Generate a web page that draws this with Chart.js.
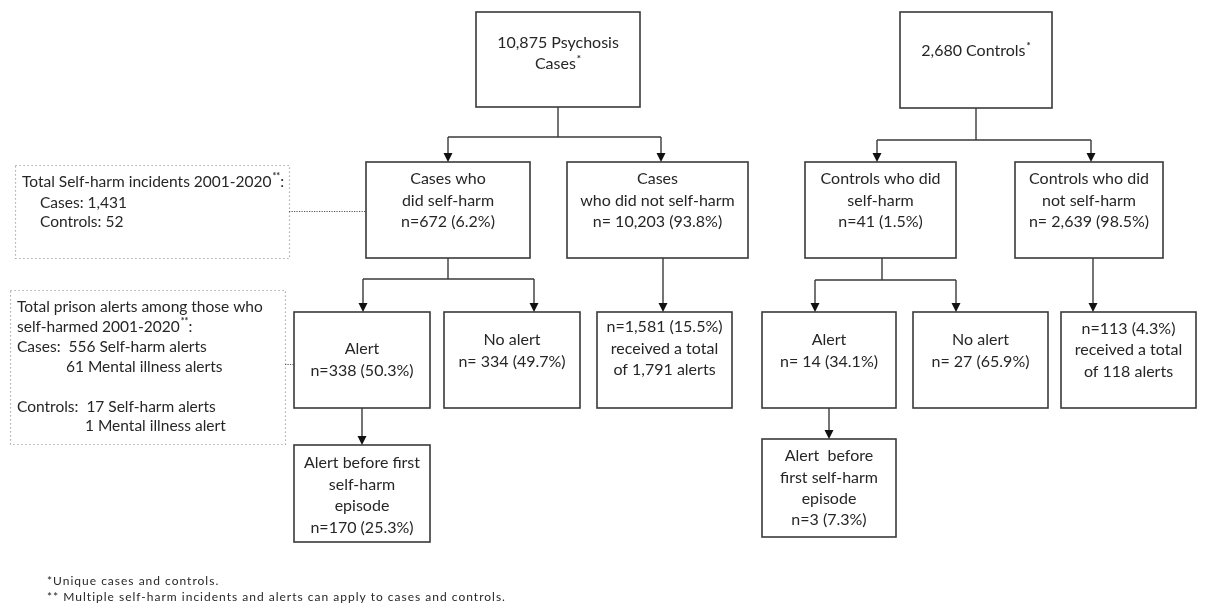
<!DOCTYPE html>
<html>
<head>
<meta charset="utf-8">
<script src="https://cdn.jsdelivr.net/npm/chart.js@4.4.0/dist/chart.umd.min.js"></script>
<style>
html,body{margin:0;padding:0;background:#fff;}
#c{display:block;}
</style>
</head>
<body>
<canvas id="c" width="1208" height="603"></canvas>
<script>
// ---------- DATA (index 0 = psychosis cases, index 1 = controls) ----------
const groups = ['Psychosis Cases', 'Controls'];
const cohortTotals = [10875, 2680];
const selfHarmN = [672, 41];
const selfHarmPct = [6.2, 1.5];
const noSelfHarmN = [10203, 2639];
const noSelfHarmPct = [93.8, 98.5];
const alertN = [338, 14];
const alertPct = [50.3, 34.1];
const noAlertN = [334, 27];
const noAlertPct = [49.7, 65.9];
const alertBeforeN = [170, 3];
const alertBeforePct = [25.3, 7.3];
const noSHAlertedN = [1581, 113];
const noSHAlertedPct = [15.5, 4.3];
const noSHAlertsTotal = [1791, 118];
const incidentTotals = [1431, 52];
const selfHarmAlerts = [556, 17];
const mentalIllnessAlerts = [61, 1];
const footnotes = ['*Unique cases and controls.', '** Multiple self-harm incidents and alerts can apply to cases and controls.'];

const fmt = n => n.toLocaleString('en-US');

// ---------- TEXT per node (built from data) ----------
const nodeText = {
  caseTop: [`${fmt(cohortTotals[0])} Psychosis`, `Cases^{*}`],
  ctrlTop: [`${fmt(cohortTotals[1])} Controls^{*}`],
  caseSH: ['Cases who', 'did self-harm', `n=${selfHarmN[0]} (${selfHarmPct[0]}%)`],
  caseNoSH: ['Cases', 'who did not self-harm', `n= ${fmt(noSelfHarmN[0])} (${noSelfHarmPct[0]}%)`],
  ctrlSH: ['Controls who did', 'self-harm', `n=${selfHarmN[1]} (${selfHarmPct[1]}%)`],
  ctrlNoSH: ['Controls who did', 'not self-harm', `n= ${fmt(noSelfHarmN[1])} (${noSelfHarmPct[1]}%)`],
  caseAlert: ['Alert', `n=${alertN[0]} (${alertPct[0]}%)`],
  caseNoAlert: ['No alert', `n= ${noAlertN[0]} (${noAlertPct[0]}%)`],
  caseNoSHAlert: [`n=${fmt(noSHAlertedN[0])} (${noSHAlertedPct[0]}%)`, 'received a total', `of ${fmt(noSHAlertsTotal[0])} alerts`],
  caseBefore: ['Alert before first', 'self-harm', 'episode', `n=${alertBeforeN[0]} (${alertBeforePct[0]}%)`],
  ctrlAlert: ['Alert', `n= ${alertN[1]} (${alertPct[1]}%)`],
  ctrlNoAlert: ['No alert', `n= ${noAlertN[1]} (${noAlertPct[1]}%)`],
  ctrlNoSHAlert: [`n=${noSHAlertedN[1]} (${noSHAlertedPct[1]}%)`, 'received a total', `of ${noSHAlertsTotal[1]} alerts`],
  ctrlBefore: ['Alert  before', 'first self-harm', 'episode', `n=${alertBeforeN[1]} (${alertBeforePct[1]}%)`]
};
const noteText = {
  note1: ['Total Self-harm incidents 2001-2020^{**}:', `Cases: ${fmt(incidentTotals[0])}`, `Controls: ${incidentTotals[1]}`],
  note2: ['Total prison alerts among those who', 'self-harmed 2001-2020^{**}:',
          `Cases:  ${selfHarmAlerts[0]} Self-harm alerts`, `${mentalIllnessAlerts[0]} Mental illness alerts`,
          `Controls:  ${selfHarmAlerts[1]} Self-harm alerts`, `${mentalIllnessAlerts[1]} Mental illness alert`]
};

// ---------- LAYOUT (positions/sizes, in a 1208x603 value space) ----------
const boxLayout = {
  caseTop:      {x1:476, y1:12,  x2:640, y2:107, ly:[43, 64]},
  ctrlTop:      {x1:900, y1:12,  x2:1052,y2:108, ly:[51]},
  caseSH:       {x1:366, y1:162, x2:530, y2:258, ly:[179, 201, 222]},
  caseNoSH:     {x1:567, y1:162, x2:748, y2:258, ly:[179, 201, 222]},
  ctrlSH:       {x1:805, y1:162, x2:956, y2:258, ly:[179, 201, 222]},
  ctrlNoSH:     {x1:1015,y1:162, x2:1163,y2:258, ly:[179, 201, 222]},
  caseAlert:    {x1:294, y1:312, x2:430, y2:408, ly:[349, 371]},
  caseNoAlert:  {x1:444, y1:312, x2:580, y2:408, ly:[340, 362]},
  caseNoSHAlert:{x1:597, y1:312, x2:732, y2:408, ly:[327, 349, 370]},
  caseBefore:   {x1:294, y1:445, x2:430, y2:542, ly:[463, 485, 506, 528]},
  ctrlAlert:    {x1:762, y1:312, x2:896, y2:408, ly:[340, 362]},
  ctrlNoAlert:  {x1:913, y1:312, x2:1048,y2:408, ly:[340, 362]},
  ctrlNoSHAlert:{x1:1061,y1:312, x2:1196,y2:408, ly:[329, 350, 372]},
  ctrlBefore:   {x1:762, y1:439, x2:896, y2:537, ly:[456, 478, 499, 520]}
};
const noteLayout = {
  note1: {x1:15, y1:165, x2:289, y2:258, lx:[22, 40, 40], ly:[182, 203, 222], link:{x1:289, x2:366, y:211}},
  note2: {x1:10, y1:290, x2:285, y2:444, lx:[17, 17, 17, 66, 17, 85], ly:[307, 327, 347, 367, 407, 426], link:{x1:285, x2:294, y:364}}
};
const splits = [
  {x:558, y1:107, yb:137, arrows:[448, 661], y2:162},
  {x:976, y1:108, yb:140, arrows:[877, 1091], y2:162},
  {x:448, y1:258, yb:279, arrows:[363, 534], y2:312},
  {x:882, y1:258, yb:280, arrows:[815, 956], y2:312}
];
const straight = [
  {x:663, y1:258, y2:312},
  {x:1093, y1:258, y2:312},
  {x:362, y1:408, y2:445},
  {x:829, y1:408, y2:439}
];
const footLayout = {x:47, ly:[581, 597]};

const FONT = 'Lato, "Open Sans", sans-serif';
const TEXT_COLOR = '#262626';
const LINE_COLOR = '#3a3a3a';

function drawRich(ctx, str, x, y, align, size, spacing) {
  const parts = [];
  const re = /\^\{([^}]*)\}/g;
  let last = 0, m;
  while ((m = re.exec(str))) {
    if (m.index > last) parts.push({t: str.slice(last, m.index), sup: false});
    parts.push({t: m[1], sup: true});
    last = re.lastIndex;
  }
  if (last < str.length) parts.push({t: str.slice(last), sup: false});
  ctx.letterSpacing = (spacing || 0) + 'px';
  const fN = `${size}px ${FONT}`, fS = `bold ${Math.round(size * 0.6)}px ${FONT}`;
  let w = 0;
  parts.forEach(p => { ctx.font = p.sup ? fS : fN; p.w = ctx.measureText(p.t).width + (p.sup ? 1 : 0); w += p.w; });
  let cx = align === 'center' ? x - w / 2 : x;
  ctx.textAlign = 'left';
  ctx.textBaseline = 'middle';
  parts.forEach(p => {
    ctx.font = p.sup ? fS : fN;
    ctx.fillText(p.t, cx + (p.sup ? 1 : 0), p.sup ? y - size * 0.35 : y);
    cx += p.w;
  });
  ctx.letterSpacing = '0px';
}

const flowPlugin = {
  id: 'flow',
  afterDatasetsDraw(chart) {
    const ctx = chart.ctx;
    const xs = chart.scales.x, ys = chart.scales.y;
    const X = v => xs.getPixelForValue(v), Y = v => ys.getPixelForValue(v);
    ctx.save();
    // dotted notes
    ctx.lineWidth = 1.2;
    Object.keys(noteLayout).forEach(k => {
      const b = noteLayout[k];
      ctx.setLineDash([1.2, 2.8]);
      ctx.strokeStyle = '#9a9a9a';
      ctx.strokeRect(X(b.x1) + 0.5, Y(b.y1) + 0.5, X(b.x2) - X(b.x1), Y(b.y2) - Y(b.y1));
      ctx.setLineDash([1.2, 1.3]);
      ctx.beginPath();
      ctx.strokeStyle = '#555';
      ctx.moveTo(X(b.link.x1), Y(b.link.y) + 0.5);
      ctx.lineTo(X(b.link.x2), Y(b.link.y) + 0.5);
      ctx.stroke();
    });
    ctx.setLineDash([]);
    // boxes
    ctx.strokeStyle = LINE_COLOR;
    ctx.lineWidth = 1.6;
    Object.keys(boxLayout).forEach(k => {
      const b = boxLayout[k];
      ctx.strokeRect(X(b.x1), Y(b.y1), X(b.x2) - X(b.x1), Y(b.y2) - Y(b.y1));
    });
    const arrowHead = (x, y) => {
      ctx.beginPath();
      ctx.moveTo(X(x), Y(y));
      ctx.lineTo(X(x) - 4.5, Y(y) - 9);
      ctx.lineTo(X(x) + 4.5, Y(y) - 9);
      ctx.closePath();
      ctx.fillStyle = '#111';
      ctx.fill();
    };
    ctx.lineWidth = 1.4;
    splits.forEach(s => {
      ctx.beginPath();
      ctx.moveTo(X(s.x), Y(s.y1)); ctx.lineTo(X(s.x), Y(s.yb));
      ctx.moveTo(X(s.arrows[0]), Y(s.yb)); ctx.lineTo(X(s.arrows[1]), Y(s.yb));
      s.arrows.forEach(a => { ctx.moveTo(X(a), Y(s.yb)); ctx.lineTo(X(a), Y(s.y2) - 8); });
      ctx.stroke();
      s.arrows.forEach(a => arrowHead(a, s.y2));
    });
    straight.forEach(s => {
      ctx.beginPath();
      ctx.moveTo(X(s.x), Y(s.y1)); ctx.lineTo(X(s.x), Y(s.y2) - 8);
      ctx.stroke();
      arrowHead(s.x, s.y2);
    });
    // text
    ctx.fillStyle = TEXT_COLOR;
    Object.keys(boxLayout).forEach(k => {
      const b = boxLayout[k];
      const cx = X((b.x1 + b.x2) / 2);
      nodeText[k].forEach((t, i) => drawRich(ctx, t, cx, Y(b.ly[i]), 'center', 16));
    });
    Object.keys(noteLayout).forEach(k => {
      const b = noteLayout[k];
      noteText[k].forEach((t, i) => drawRich(ctx, t, X(b.lx[i]), Y(b.ly[i]), 'left', 15.5));
    });
    footnotes.forEach((t, i) => drawRich(ctx, t, X(footLayout.x), Y(footLayout.ly[i]), 'left', 12, 1));
    ctx.restore();
  }
};

const anchors = Object.keys(boxLayout).map(k => ({x: (boxLayout[k].x1 + boxLayout[k].x2) / 2, y: (boxLayout[k].y1 + boxLayout[k].y2) / 2}));

new Chart(document.getElementById('c'), {
  type: 'scatter',
  data: {datasets: [{label: 'nodes', data: anchors, pointRadius: 0, pointHoverRadius: 0}]},
  options: {
    responsive: false,
    animation: false,
    devicePixelRatio: 1,
    layout: {padding: 0},
    plugins: {legend: {display: false}, tooltip: {enabled: false}},
    scales: {
      x: {type: 'linear', min: 0, max: 1208, display: false},
      y: {type: 'linear', min: 0, max: 603, reverse: true, display: false}
    }
  },
  plugins: [flowPlugin]
});
</script>
</body>
</html>
